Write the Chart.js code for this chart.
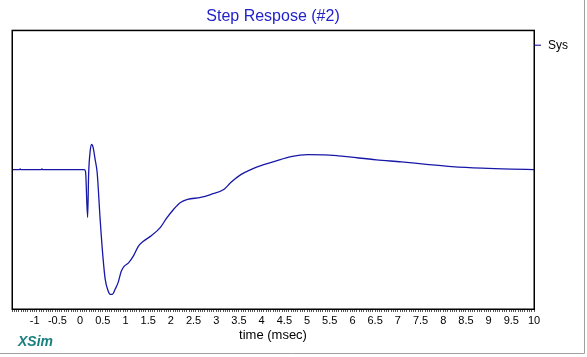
<!DOCTYPE html>
<html><head><meta charset="utf-8">
<script src="https://cdn.jsdelivr.net/npm/chart.js@4.4.1/dist/chart.umd.min.js"></script>
<style>html,body{margin:0;padding:0;background:#fff;}canvas{display:block;}</style>
</head><body>
<canvas id="c" width="587" height="357"></canvas>
<script>
const chartTitle = 'Step Respose (#2)';
const seriesName = 'Sys';
const xAxisTitle = 'time (msec)';
const brand = 'XSim';

// time in msec
const times = [-1.5, -1.34, -1.32, -1.30, -0.86, -0.84, -0.82, 0.09, 0.12, 0.166, 0.188, 0.221, 0.254, 0.288, 0.332, 0.376, 0.442, 0.502, 0.553, 0.619, 0.664, 0.708, 0.774, 0.841, 0.907, 0.973, 1.062, 1.173, 1.283, 1.394, 1.549, 1.77, 1.903, 2.058, 2.212, 2.367, 2.655, 2.876, 3.164, 3.319, 3.54, 3.761, 3.982, 4.27, 4.646, 5.022, 5.376, 5.686, 5.973, 6.53, 7.08, 7.63, 8.19, 8.85, 9.5, 10];
// response (arbitrary units, baseline 0)
const values = [0, 0, 0.005, 0, 0, 0.005, 0, 0, -0.014, -0.343, -0.036, 0.129, 0.18, 0.157, 0.071, -0.021, -0.357, -0.621, -0.786, -0.871, -0.895, -0.895, -0.857, -0.807, -0.729, -0.693, -0.671, -0.621, -0.55, -0.514, -0.479, -0.414, -0.35, -0.286, -0.236, -0.214, -0.2, -0.179, -0.143, -0.093, -0.036, 0, 0.029, 0.057, 0.093, 0.107, 0.106, 0.099, 0.089, 0.07, 0.055, 0.038, 0.022, 0.01, 0.003, 0];

const tickLabels = ['-1','-0.5','0','0.5','1','1.5','2','2.5','3','3.5','4','4.5','5','5.5','6','6.5','7','7.5','8','8.5','9','9.5','10'];
const xMin = -1.5, xMax = 10, minorStep = 0.05;

const labelMap = new Map(tickLabels.map(s => [Math.round(parseFloat(s) * 100), s]));
const minorTicks = [];
for (let k = 0; k <= Math.round((xMax - xMin) / minorStep); k++) {
  minorTicks.push(Math.round((xMin + k * minorStep) * 100) / 100);
}

const FONT = "'Liberation Sans', Arial, sans-serif";

const framePlugin = {
  id: 'frame',
  afterDraw(chart) {
    const ctx = chart.ctx, a = chart.chartArea;
    ctx.save();
    ctx.strokeStyle = '#000';
    ctx.lineWidth = 1.5;
    ctx.strokeRect(a.left + 0.25, a.top + 0.25, a.right - a.left, a.bottom - a.top);
    // legend
    const ly = a.top + 15;
    ctx.strokeStyle = '#000080';
    ctx.lineWidth = 1;
    ctx.beginPath(); ctx.moveTo(a.right, ly); ctx.lineTo(a.right + 7, ly); ctx.stroke();
    ctx.fillStyle = '#000';
    ctx.font = '12px ' + FONT;
    ctx.textBaseline = 'middle';
    ctx.textAlign = 'left';
    ctx.fillText(seriesName, a.right + 14, ly);
    // brand
    ctx.fillStyle = '#1a7f7f';
    ctx.font = 'bold italic 14px ' + FONT;
    ctx.fillText(brand, 18, 342);
    // window frame
    ctx.strokeStyle = '#a0a0a0';
    ctx.lineWidth = 1;
    ctx.beginPath();
    ctx.moveTo(584.5, 0); ctx.lineTo(584.5, 353.5); ctx.lineTo(0, 353.5);
    ctx.stroke();
    ctx.restore();
  }
};

new Chart(document.getElementById('c'), {
  type: 'line',
  data: {
    datasets: [{
      label: seriesName,
      data: times.map((t, i) => ({ x: t, y: values[i] })),
      borderColor: '#1818a8',
      borderWidth: 1.3,
      pointRadius: 0,
      cubicInterpolationMode: 'monotone',
      fill: false
    }]
  },
  options: {
    responsive: false,
    animation: false,
    layout: { padding: { left: 12, right: 53, top: 0, bottom: 0 } },
    plugins: {
      legend: { display: false },
      tooltip: { enabled: false },
      title: {
        display: true,
        text: chartTitle,
        color: '#2222cc',
        font: { family: FONT, size: 16, weight: 'normal' },
        padding: { top: 7, bottom: 4 }
      }
    },
    scales: {
      x: {
        type: 'linear',
        min: xMin,
        max: xMax,
        afterBuildTicks: (scale) => { scale.ticks = minorTicks.map(v => ({ value: v })); },
        afterFit: (scale) => { scale.height = 48; },
        border: { display: false },
        grid: { display: true, drawOnChartArea: false, drawTicks: true, tickLength: 3, color: '#555', lineWidth: 1 },
        ticks: {
          autoSkip: false,
          maxRotation: 0,
          padding: 2,
          color: '#000',
          font: { family: FONT, size: 11 },
          callback: (v) => labelMap.get(Math.round(v * 100)) ?? ''
        },
        title: {
          display: true,
          text: xAxisTitle,
          color: '#000',
          font: { family: FONT, size: 13 },
          padding: { top: 0, bottom: 14 }
        }
      },
      y: {
        display: false,
        min: -1,
        max: 1
      }
    }
  },
  plugins: [framePlugin]
});
</script>
</body></html>
